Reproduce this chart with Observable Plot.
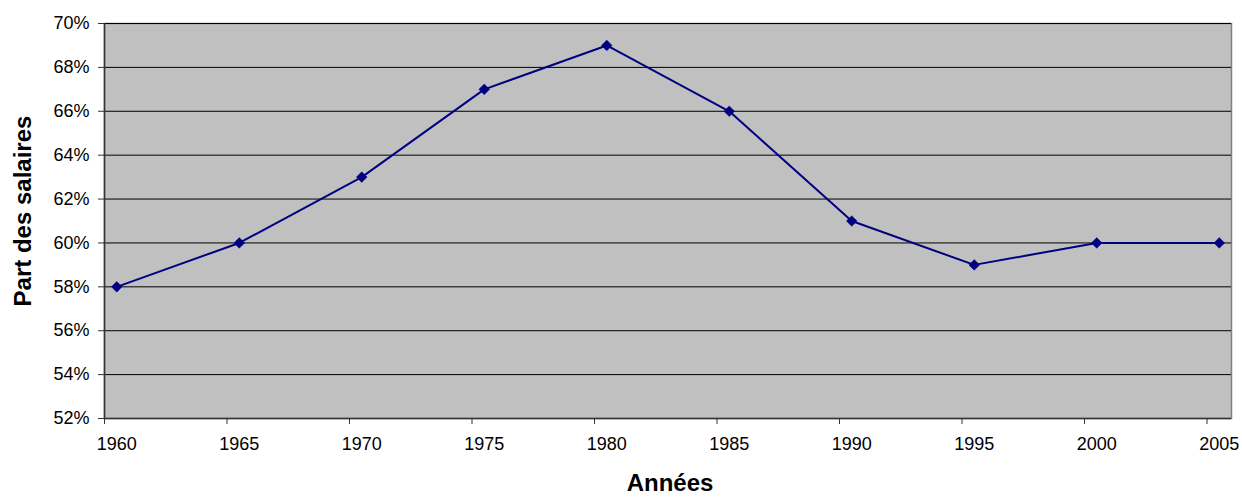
<!DOCTYPE html>
<html>
<head>
<meta charset="utf-8">
<script src="https://cdn.jsdelivr.net/npm/d3@7"></script>
<script src="https://cdn.jsdelivr.net/npm/@observablehq/plot@0.6"></script>
<style>
  html, body { margin: 0; padding: 0; background: #fff; }
  #chart svg { display: block; }
</style>
</head>
<body>
<div id="chart"></div>
<script>
const years = [1960, 1965, 1970, 1975, 1980, 1985, 1990, 1995, 2000, 2005];
const shares = [58, 60, 63, 67, 69, 66, 61, 59, 60, 60];
const yTicks = [52, 54, 56, 58, 60, 62, 64, 66, 68, 70];
const yTitle = "Part des salaires";
const xTitle = "Années";

const data = years.map((year, i) => ({year, share: shares[i]}));

const chart = Plot.plot({
  width: 1242,
  height: 497,
  marginLeft: 104,
  marginRight: 11,
  marginTop: 23,
  marginBottom: 79,
  style: {fontFamily: "'Liberation Sans', Arial, sans-serif", color: "#000", background: "#fff"},
  x: {domain: [years[0] - 0.5, years[years.length - 1] + 0.5]},
  y: {domain: [yTicks[0], yTicks[yTicks.length - 1]]},
  marks: [
    Plot.frame({fill: "#C0C0C0", stroke: "#808080", strokeWidth: 1.5}),
    Plot.gridY(yTicks, {stroke: "#000", strokeOpacity: 1, strokeWidth: 1}),
    Plot.ruleX([years[0] - 0.5], {stroke: "#333", strokeWidth: 1.5}),
    Plot.ruleY([yTicks[0]], {stroke: "#333", strokeWidth: 1.5}),
    Plot.line(data, {x: "year", y: "share", stroke: "#000080", strokeWidth: 2}),
    Plot.dot(data, {x: "year", y: "share", symbol: "diamond2", r: 4.8, fill: "#000080", stroke: "#000080", strokeWidth: 0.5}),
    Plot.axisY({ticks: yTicks, tickSize: 6, tickPadding: 9, tickFormat: d => d + "%", fontSize: 18, label: null, stroke: "#333"}),
    Plot.axisX({ticks: years.map(y => y - 0.5), tickSize: 6, tickFormat: () => "", label: null, stroke: "#333"}),
    Plot.axisX({ticks: years, tickSize: 0, tickPadding: 19, tickFormat: d => String(d), fontSize: 18, label: null}),
    Plot.text([yTitle], {frameAnchor: "left", textAnchor: "middle", lineAnchor: "middle", dx: -81, dy: -10, rotate: -90, fontSize: 24, fontWeight: "bold", fill: "#000"}),
    Plot.text([xTitle], {frameAnchor: "bottom", textAnchor: "middle", lineAnchor: "middle", dx: 2, dy: 65, fontSize: 24, fontWeight: "bold", fill: "#000"})
  ]
});
document.getElementById("chart").appendChild(chart);
</script>
</body>
</html>
